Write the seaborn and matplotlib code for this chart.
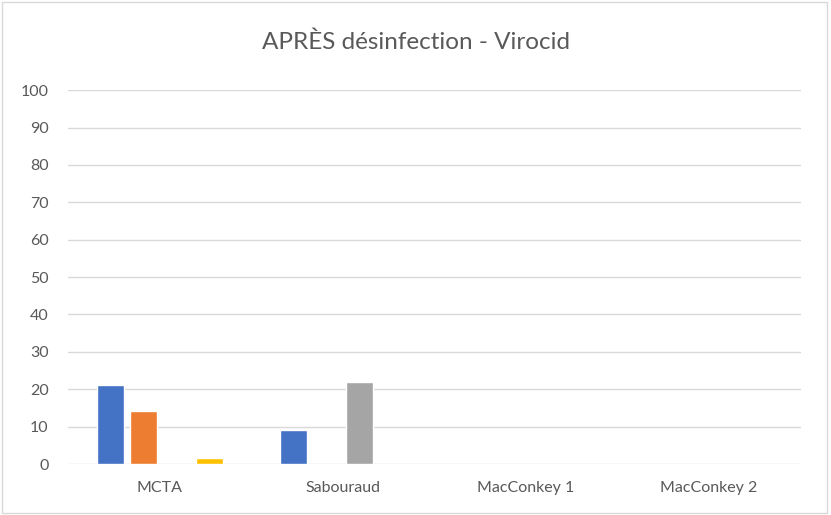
"""Bar chart: APRÈS désinfection - Virocid."""

import matplotlib

matplotlib.use("Agg")
import matplotlib.pyplot as plt
import pandas as pd
import seaborn as sns

categories = ["MCTA", "Sabouraud", "MacConkey 1", "MacConkey 2"]
series_names = ["Série 1", "Série 2", "Série 3", "Série 4"]
serie_1 = [21, 9, 0, 0]
serie_2 = [14.2, 0, 0, 0]
serie_3 = [0, 22, 0, 0]
serie_4 = [1.7, 0, 0, 0]
y_ticks = [0, 10, 20, 30, 40, 50, 60, 70, 80, 90, 100]

colors = ["#4472C4", "#ED7D31", "#A5A5A5", "#FFC000"]
text_color = "#595959"

rows = []
for name, values in zip(series_names, [serie_1, serie_2, serie_3, serie_4]):
    for cat, val in zip(categories, values):
        rows.append({"categorie": cat, "serie": name, "valeur": val})
df = pd.DataFrame(rows)

sns.set_style("white")
plt.rcParams["font.family"] = ["Lato", "DejaVu Sans"]

fig = plt.figure(figsize=(8.31, 5.15), dpi=100)
ax = fig.add_axes([0.0818, 0.099, 0.8817, 0.726])

sns.barplot(data=df, x="categorie", y="valeur", hue="serie", order=categories,
            hue_order=series_names, palette=colors, width=0.72, gap=0.18,
            legend=False, ax=ax, saturation=1)

ax.set_ylim(0, 100)
ax.set_yticks(y_ticks)
ax.set_xlim(-0.5, 3.5)
ax.grid(axis="y", color="#D9D9D9", linewidth=1)
ax.set_axisbelow(True)
for side in ["top", "right", "left", "bottom"]:
    ax.spines[side].set_visible(False)
ax.tick_params(axis="both", length=0, labelsize=11.5, colors=text_color)
ax.tick_params(axis="y", pad=14)
ax.tick_params(axis="x", pad=12)
ax.set_xlabel("")
ax.set_ylabel("")

fig.text(0.5, 0.918, "APRÈS désinfection - Virocid", ha="center", va="center",
         fontsize=17.5, color=text_color)

# outer chart border
fig.patches.append(plt.Rectangle((0.002, 0.003), 0.993, 0.993, transform=fig.transFigure,
                                 fill=False, edgecolor="#D9D9D9", linewidth=1))

fig.savefig("out.png", dpi=100)
